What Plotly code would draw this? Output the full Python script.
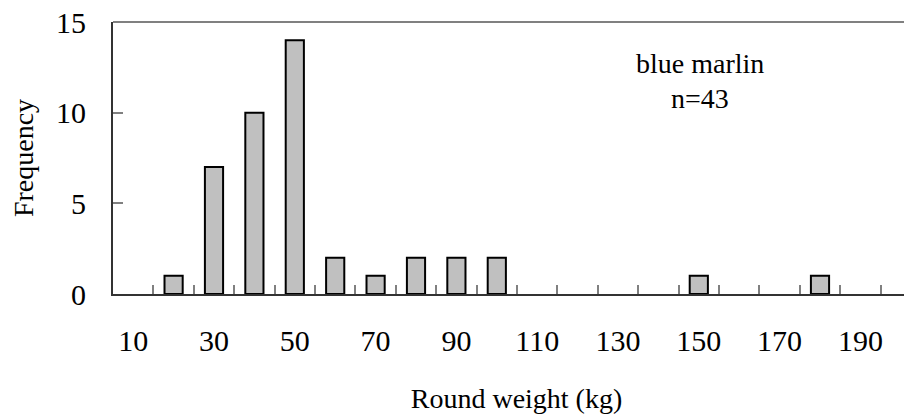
import plotly.graph_objects as go

weights = [10, 20, 30, 40, 50, 60, 70, 80, 90, 100, 110, 120, 130, 140, 150, 160, 170, 180, 190, 200]
frequency = [0, 1, 7, 10, 14, 2, 1, 2, 2, 2, 0, 0, 0, 0, 1, 0, 0, 1, 0, 0]
tick_labels = [10, 30, 50, 70, 90, 110, 130, 150, 170, 190]
y_ticks = [0, 5, 10, 15]
species = "blue marlin"
n_label = "n=43"

FONT = "Liberation Serif, Times New Roman, serif"
tick_fs = 30
title_fs = 28
ann_fs = 28

# empty classes are not drawn as bars
bar_y = [f if f > 0 else None for f in frequency]

fig = go.Figure()
fig.add_trace(go.Bar(
    x=weights, y=bar_y, width=4.5,
    marker=dict(color="#c0c0c0", line=dict(color="black", width=2)),
))

boundaries = [w + 5 for w in weights[:-1]]
fig.update_layout(
    width=912, height=420,
    margin=dict(l=105, r=0, t=14, b=134),
    paper_bgcolor="white", plot_bgcolor="white",
    showlegend=False,
    font=dict(family=FONT, size=tick_fs, color="black"),
    xaxis=dict(
        automargin=False,
        range=[5, 5 + 807 / 4.04],
        tickmode="array", tickvals=tick_labels, ticktext=[str(t) for t in tick_labels],
        ticks="", showgrid=False, zeroline=False,
        showline=True, linecolor="#333333", linewidth=2,
        ticklabelstandoff=19, ticklabeloverflow="allow",
        tickfont=dict(size=tick_fs),
        minor=dict(tickvals=boundaries, ticks="inside", ticklen=9, tickcolor="#808080", tickwidth=2, showgrid=False),
        title=dict(text="Round weight (kg)", standoff=32, font=dict(size=title_fs)),
    ),
    yaxis=dict(
        automargin=False,
        range=[0, 15], tickvals=y_ticks,
        ticks="inside", ticklen=10, tickcolor="#808080", tickwidth=2,
        showgrid=False, zeroline=False,
        showline=True, linecolor="#333333", linewidth=2,
        ticklabelstandoff=19, ticklabeloverflow="allow",
        tickfont=dict(size=tick_fs),
        title=dict(text="Frequency", standoff=20, font=dict(size=title_fs)),
    ),
    shapes=[dict(type="line", xref="paper", yref="paper", x0=0, x1=1, y0=1, y1=1,
                 line=dict(color="#808080", width=2))],
    annotations=[
        dict(text=species, xref="paper", yref="paper", x=0.727, y=0.846, showarrow=False,
             font=dict(size=ann_fs), xanchor="center", yanchor="middle"),
        dict(text=n_label, xref="paper", yref="paper", x=0.727, y=0.717, showarrow=False,
             font=dict(size=ann_fs), xanchor="center", yanchor="middle"),
    ],
)

fig.write_html("out.html")
